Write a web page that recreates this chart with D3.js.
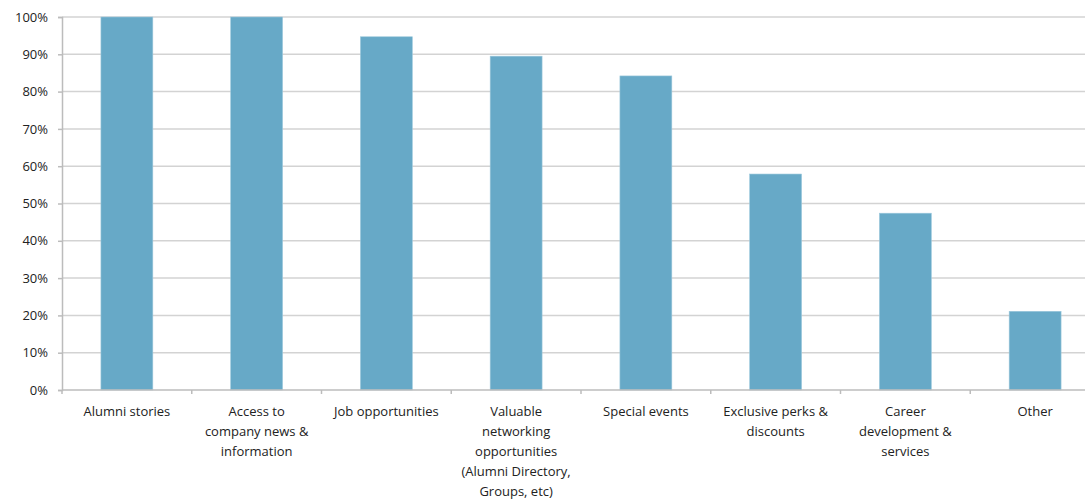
<!DOCTYPE html>
<html>
<head>
<meta charset="utf-8">
<script src="https://cdn.jsdelivr.net/npm/d3@7"></script>
<style>
  body { margin: 0; background: #fff; }
  text { font-family: "Open Sans", "Noto Sans", sans-serif; fill: #222; }
</style>
</head>
<body>
<svg id="chart" width="1085" height="500"></svg>
<script>
// categories, each is a list of label lines
var categories = [
    ["Alumni stories"],
    ["Access to", "company news &", "information"],
    ["Job opportunities"],
    ["Valuable", "networking", "opportunities", "(Alumni Directory,", "Groups, etc)"],
    ["Special events"],
    ["Exclusive perks &", "discounts"],
    ["Career", "development &", "services"],
    ["Other"]
];
var values = [100, 100, 94.7, 89.5, 84.2, 57.9, 47.4, 21.1];
var yTicks = [0, 10, 20, 30, 40, 50, 60, 70, 80, 90, 100];

var svg = d3.select("#chart");
// note: "top" is taken by window.top, so use other names
var plotLeft = 62, plotRight = 1100, plotTop = 17, plotBottom = 390;

var x = d3.scaleBand()
    .domain(d3.range(categories.length))
    .range([plotLeft, plotRight])
    .paddingInner(0.6)
    .paddingOuter(0.3);

var y = d3.scaleLinear().domain([0, 100]).range([plotBottom, plotTop]);

// grid lines
svg.append("g")
    .selectAll("line")
    .data(yTicks.slice(1))
    .enter()
    .append("line")
    .attr("x1", plotLeft).attr("x2", plotRight)
    .attr("y1", d => y(d)).attr("y2", d => y(d))
    .attr("stroke", "#d3d3d3")
    .attr("stroke-width", 1.5);

// y axis
var yAxis = svg.append("g")
    .attr("transform", "translate(" + plotLeft + ",0)")
    .call(d3.axisLeft(y).tickValues(yTicks).tickFormat(d => d + "%").tickSize(4).tickPadding(10));
yAxis.select(".domain").attr("stroke", "#bcbcbc").attr("stroke-width", 1.5);
yAxis.selectAll(".tick line").attr("stroke", "#bcbcbc").attr("stroke-width", 1.5);
yAxis.selectAll(".tick text")
    .style("font-family", '"Open Sans", "Noto Sans", sans-serif')
    .style("font-size", "13px")
    .attr("fill", "#222");

// bars
svg.append("g")
    .selectAll("rect")
    .data(values)
    .enter()
    .append("rect")
    .attr("x", (d, i) => x(i))
    .attr("width", x.bandwidth())
    .attr("y", d => y(d))
    .attr("height", d => y(0) - y(d))
    .attr("fill", "#67a9c7")
    .attr("stroke", "#9cc8dc")
    .attr("stroke-width", 0.6);

// x axis line and ticks at band edges
svg.append("line")
    .attr("x1", plotLeft).attr("x2", plotRight)
    .attr("y1", plotBottom).attr("y2", plotBottom)
    .attr("stroke", "#bcbcbc").attr("stroke-width", 1.5);

var step = x.step();
svg.append("g")
    .selectAll("line")
    .data(d3.range(categories.length + 1))
    .enter()
    .append("line")
    .attr("x1", i => plotLeft + i * step).attr("x2", i => plotLeft + i * step)
    .attr("y1", plotBottom).attr("y2", plotBottom + 4)
    .attr("stroke", "#bcbcbc").attr("stroke-width", 1.5);

// category labels
var labels = svg.append("g")
    .selectAll("text")
    .data(categories)
    .enter()
    .append("text")
    .attr("text-anchor", "middle")
    .style("font-size", "13px")
    .attr("transform", (d, i) => "translate(" + (x(i) + x.bandwidth() / 2) + ",416)");

labels.selectAll("tspan")
    .data(d => d)
    .enter()
    .append("tspan")
    .attr("x", 0)
    .attr("y", (d, j) => j * 20)
    .text(d => d);
</script>
</body>
</html>
